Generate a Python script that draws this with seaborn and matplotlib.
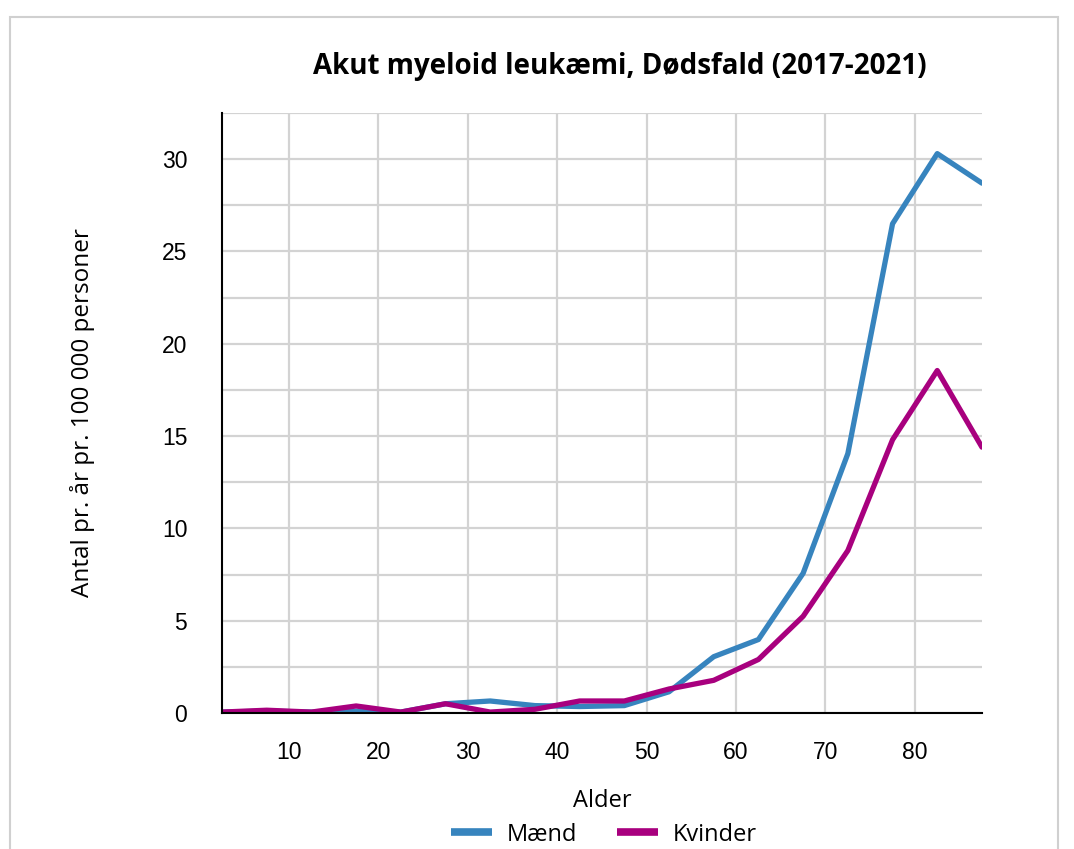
import pandas as pd
import numpy as np
import matplotlib
matplotlib.use("Agg")
import matplotlib.pyplot as plt
import seaborn as sns
from matplotlib.patches import Rectangle
from matplotlib.ticker import MultipleLocator

# age group midpoints and rates per 100 000 per year
alder = [2.5, 7.5, 12.5, 17.5, 22.5, 27.5, 32.5, 37.5, 42.5, 47.5,
         52.5, 57.5, 62.5, 67.5, 72.5, 77.5, 82.5, 87.5]
maend = [0.05, 0.1, 0.05, 0.1, 0.05, 0.5, 0.65, 0.4, 0.35, 0.4,
         1.15, 3.05, 3.98, 7.57, 14.05, 26.5, 30.3, 28.7]
kvinder = [0.05, 0.15, 0.05, 0.38, 0.05, 0.5, 0.05, 0.2, 0.65, 0.65,
           1.3, 1.77, 2.9, 5.24, 8.8, 14.8, 18.55, 14.4]

df = pd.concat([
    pd.DataFrame({"Alder": alder, "Rate": maend, "Køn": "Mænd"}),
    pd.DataFrame({"Alder": alder, "Rate": kvinder, "Køn": "Kvinder"}),
])

sns.set_style("white")
plt.rcParams['font.family'] = ['Liberation Sans', 'DejaVu Sans']
plt.rcParams['text.color'] = 'black'
plt.rcParams['axes.labelcolor'] = 'black'
plt.rcParams['xtick.color'] = 'black'
plt.rcParams['ytick.color'] = 'black'

fig = plt.figure(figsize=(10.74, 8.49), dpi=100)
fig.patches.append(Rectangle((10 / 1074, -0.1), 1048 / 1074, 1 - 17 / 849 + 0.1,
                             transform=fig.transFigure, fill=False,
                             edgecolor="#d0d0d0", lw=1.5))
ax = fig.add_axes([0.2067, 0.1602, 0.7076, 0.7067])

sns.lineplot(data=df, x="Alder", y="Rate", hue="Køn",
             palette={"Mænd": "#3784be", "Kvinder": "#a8007e"},
             linewidth=3.8, ax=ax, legend=False)

ax.set_xlim(2.5, 87.5)
ax.set_ylim(0, 32.5)
ax.xaxis.set_major_locator(MultipleLocator(10))
ax.yaxis.set_major_locator(MultipleLocator(5))
ax.yaxis.set_minor_locator(MultipleLocator(2.5))
ax.grid(True, which="major", color="#d3d3d3", lw=1.6)
ax.grid(True, which="minor", axis="y", color="#d3d3d3", lw=1.6)
ax.set_axisbelow(True)
for s in ["top", "right"]:
    ax.spines[s].set_visible(False)
for s in ["left", "bottom"]:
    ax.spines[s].set_color("black")
    ax.spines[s].set_linewidth(1.5)
ax.tick_params(axis="both", which="both", direction="out", width=1.3,
               color="black", labelsize=16.5)
ax.tick_params(axis="x", which="major", length=11, pad=9)
ax.tick_params(axis="y", which="major", length=12, pad=13)
ax.tick_params(axis="y", which="minor", length=7)

ax.set_xlabel("Alder", fontsize=17, family=["Open Sans", "DejaVu Sans"], labelpad=18)
ax.set_ylabel("Antal pr. år pr. 100 000 personer", fontsize=17.5,
              family=["Open Sans", "DejaVu Sans"], labelpad=48)
fig.text(0.577, 0.922, "Akut myeloid leukæmi, Dødsfald (2017-2021)", ha="center",
         va="center", fontsize=20, fontweight="bold",
         family=["Open Sans", "DejaVu Sans"])

handles = [plt.Line2D([], [], color="#3784be", lw=5.5, solid_capstyle="butt"),
           plt.Line2D([], [], color="#a8007e", lw=5.5, solid_capstyle="butt")]
fig.legend(handles, ["Mænd", "Kvinder"], loc="center", bbox_to_anchor=(0.562, 0.017),
           ncol=2, frameon=False, prop={"family": ["Open Sans", "DejaVu Sans"], "size": 17},
           handlelength=1.75, columnspacing=1.7, handletextpad=0.6)

plt.savefig("out.png", dpi=100)
